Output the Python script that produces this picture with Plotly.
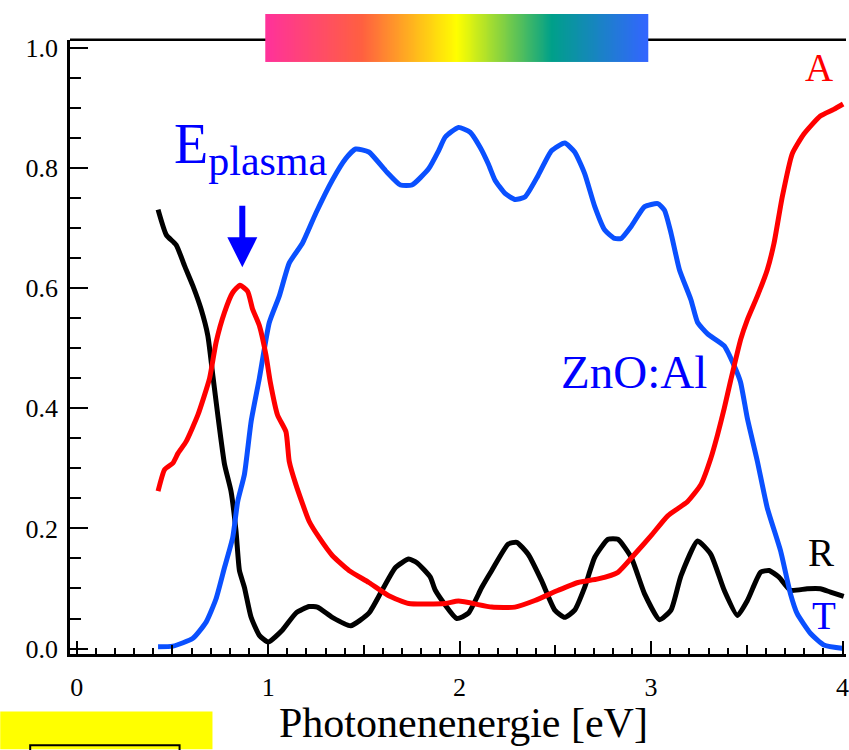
import plotly.graph_objects as go

# ---------------- data ----------------
R_ENERGY = [0.425, 0.468, 0.520, 0.564, 0.607, 0.650, 0.685, 0.711, 0.737, 0.772, 0.806, 0.832,
            0.850, 0.876, 0.911, 0.954, 1.000, 1.075, 1.145, 1.214, 1.257, 1.335, 1.431, 1.526,
            1.595, 1.665, 1.734, 1.777, 1.847, 1.873, 1.985, 2.046, 2.116, 2.168, 2.254, 2.298,
            2.358, 2.428, 2.497, 2.549, 2.601, 2.653, 2.706, 2.775, 2.827, 2.896, 2.966, 3.044,
            3.104, 3.156, 3.243, 3.312, 3.382, 3.451, 3.503, 3.572, 3.616, 3.668, 3.728, 3.815,
            3.884, 3.937, 4.006]
R_VALUES = [0.731, 0.689, 0.672, 0.637, 0.604, 0.565, 0.521, 0.455, 0.389, 0.307, 0.262, 0.196,
            0.130, 0.102, 0.052, 0.022, 0.011, 0.031, 0.059, 0.070, 0.069, 0.052, 0.038, 0.059,
            0.097, 0.135, 0.149, 0.143, 0.119, 0.097, 0.050, 0.059, 0.102, 0.130, 0.174, 0.177,
            0.157, 0.113, 0.064, 0.052, 0.064, 0.102, 0.152, 0.182, 0.182, 0.152, 0.091, 0.048,
            0.064, 0.121, 0.179, 0.157, 0.097, 0.055, 0.080, 0.127, 0.130, 0.119, 0.097, 0.0995,
            0.0995, 0.094, 0.087]

A_ENERGY = [0.425, 0.459, 0.503, 0.529, 0.572, 0.633, 0.694, 0.728, 0.772, 0.815, 0.853, 0.893,
            0.919, 0.954, 0.989, 1.011, 1.049, 1.093, 1.110, 1.145, 1.214, 1.266, 1.335, 1.422,
            1.526, 1.630, 1.734, 1.925, 1.994, 2.168, 2.289, 2.393, 2.515, 2.619, 2.723, 2.827,
            2.914, 3.000, 3.087, 3.191, 3.260, 3.312, 3.347, 3.382, 3.416, 3.468, 3.503, 3.555,
            3.607, 3.642, 3.685, 3.737, 3.798, 3.884, 3.954, 4.003]
A_VALUES = [0.262, 0.298, 0.309, 0.325, 0.345, 0.389, 0.450, 0.510, 0.560, 0.593, 0.605, 0.595,
            0.565, 0.538, 0.488, 0.444, 0.389, 0.361, 0.312, 0.273, 0.212, 0.185, 0.155, 0.130,
            0.110, 0.088, 0.075, 0.075, 0.079, 0.069, 0.069, 0.080, 0.097, 0.110, 0.116, 0.127,
            0.157, 0.188, 0.221, 0.245, 0.273, 0.317, 0.356, 0.400, 0.447, 0.515, 0.548, 0.587,
            0.631, 0.675, 0.752, 0.824, 0.857, 0.887, 0.898, 0.907]

T_ENERGY = [0.425, 0.503, 0.607, 0.676, 0.728, 0.772, 0.815, 0.841, 0.876, 0.911, 0.954, 1.006,
            1.058, 1.110, 1.179, 1.249, 1.335, 1.405, 1.457, 1.526, 1.613, 1.691, 1.751, 1.838,
            1.890, 1.925, 1.994, 2.055, 2.107, 2.150, 2.185, 2.237, 2.289, 2.341, 2.410, 2.480,
            2.549, 2.601, 2.653, 2.706, 2.758, 2.810, 2.844, 2.896, 2.966, 3.035, 3.070, 3.104,
            3.148, 3.208, 3.243, 3.295, 3.382, 3.434, 3.467, 3.503, 3.555, 3.607, 3.676, 3.728,
            3.763, 3.833, 3.902, 4.006]
T_VALUES = [0.003, 0.004, 0.017, 0.044, 0.083, 0.135, 0.185, 0.245, 0.290, 0.378, 0.450, 0.543,
            0.587, 0.642, 0.675, 0.725, 0.780, 0.816, 0.832, 0.827, 0.796, 0.772, 0.772, 0.799,
            0.829, 0.852, 0.868, 0.860, 0.835, 0.807, 0.780, 0.758, 0.748, 0.752, 0.788, 0.829,
            0.842, 0.827, 0.791, 0.736, 0.697, 0.683, 0.683, 0.703, 0.736, 0.741, 0.730, 0.692,
            0.631, 0.581, 0.543, 0.524, 0.504, 0.471, 0.444, 0.383, 0.312, 0.234, 0.163, 0.091,
            0.058, 0.025, 0.006, 0.000]

Y_TICKS = [0.0, 0.2, 0.4, 0.6, 0.8, 1.0]
Y_TICK_LABELS = ["0.0", "0.2", "0.4", "0.6", "0.8", "1.0"]
X_TICKS = [0, 1, 2, 3, 4]
X_TICK_LABELS = ["0", "1", "2", "3", "4"]

# visible-spectrum colour bar (energy span and colour stops)
SPECTRUM_START = 0.985
SPECTRUM_END = 2.983
SPECTRUM_STOPS = [[0.0, "#ff3399"], [0.25, "#ff6040"], [0.5, "#ffff00"],
                  [0.75, "#00a08a"], [1.0, "#3366ff"]]

FONT = "Liberation Serif, Times New Roman, serif"
BLUE_LINE = "#0a50ff"
BLUE_TEXT = "#0000ff"
Y_DOMAIN_TOP = 0.94648

fig = go.Figure()

fig.add_trace(go.Scatter(x=R_ENERGY, y=R_VALUES, mode="lines", name="R",
                         line=dict(color="black", width=5, shape="spline", smoothing=0.5)))
fig.add_trace(go.Scatter(x=T_ENERGY, y=T_VALUES, mode="lines", name="T",
                         line=dict(color=BLUE_LINE, width=5, shape="spline", smoothing=0.5)))
fig.add_trace(go.Scatter(x=A_ENERGY, y=A_VALUES, mode="lines", name="A",
                         line=dict(color="#ff0000", width=5, shape="spline", smoothing=0.5)))

# colour bar of the visible range, as a smooth heatmap on its own strip
n_cells = 101
cell_w = (SPECTRUM_END - SPECTRUM_START) / n_cells
fig.add_trace(go.Heatmap(
    z=[[i / (n_cells - 1) for i in range(n_cells)]],
    x0=SPECTRUM_START + cell_w / 2, dx=cell_w, y0=0, dy=1,
    colorscale=SPECTRUM_STOPS, zmin=0, zmax=1, showscale=False,
    xaxis="x", yaxis="y2", hoverinfo="skip", zsmooth="best"))

# medium ticks at 0.5 eV via an overlay axis
fig.add_trace(go.Scatter(x=[None], y=[None], xaxis="x2", yaxis="y", showlegend=False,
                         hoverinfo="skip"))

fig.update_layout(
    width=849, height=750,
    margin=dict(l=70, r=0, t=0, b=96),
    paper_bgcolor="white", plot_bgcolor="rgba(0,0,0,0)",
    showlegend=False,
    font=dict(family=FONT, color="black", size=26),
    xaxis=dict(range=[-0.0349, 4.018], showgrid=False, zeroline=False,
               showline=True, linecolor="black", linewidth=2.5,
               ticks="inside", ticklen=13, tickwidth=2, tickcolor="black",
               tickvals=X_TICKS, ticktext=X_TICK_LABELS, ticklabelstandoff=8,
               ticklabeloverflow="allow",
               tickfont=dict(size=26, family=FONT),
               minor=dict(dtick=0.1, tick0=0, ticks="inside", ticklen=6,
                          tickwidth=2, tickcolor="black", showgrid=False),
               anchor="y"),
    xaxis2=dict(overlaying="x", matches="x", range=[-0.0349, 4.018], side="bottom",
                anchor="y", showgrid=False, zeroline=False, showline=False,
                ticks="inside", dtick=0.5, tick0=0, ticklen=9, tickwidth=2,
                tickcolor="black", showticklabels=False),
    yaxis=dict(domain=[0, Y_DOMAIN_TOP], range=[-0.0091, 1.014], showgrid=False,
               zeroline=False, showline=True, linecolor="black", linewidth=2.5,
               ticks="inside", ticklen=18, tickwidth=2, tickcolor="black",
               tickvals=Y_TICKS, ticktext=Y_TICK_LABELS, ticklabelstandoff=4,
               tickfont=dict(size=26, family=FONT),
               minor=dict(dtick=0.05, tick0=0, ticks="inside", ticklen=11,
                          tickwidth=2, tickcolor="black", showgrid=False)),
    yaxis2=dict(domain=[0.9118, 0.9862], range=[-0.5, 0.5], anchor="x", visible=False,
                showgrid=False, zeroline=False),
)

annotations = [
    dict(text="Photonenenergie [eV]", x=2.02, xref="x", y=-0.106, yref="paper",
         showarrow=False, font=dict(size=42, family=FONT, color="black"),
         xanchor="center", yanchor="middle"),
    dict(text="A", x=3.876, y=0.968, xref="x", yref="y", showarrow=False,
         font=dict(size=39, family=FONT, color="#ff0000")),
    dict(text="R", x=3.886, y=0.160, xref="x", yref="y", showarrow=False,
         font=dict(size=39, family=FONT, color="black")),
    dict(text="T", x=3.901, y=0.055, xref="x", yref="y", showarrow=False,
         font=dict(size=39, family=FONT, color=BLUE_TEXT)),
    dict(text="ZnO:Al", x=2.913, y=0.460, xref="x", yref="y", showarrow=False,
         font=dict(size=47, family=FONT, color=BLUE_TEXT)),
    dict(text="E<sub><span style='font-size:42px'>plasma</span></sub>",
         x=0.912, y=0.833, xref="x", yref="y", showarrow=False,
         font=dict(size=56, family=FONT, color=BLUE_TEXT)),
    dict(text="", x=0.865, y=0.635, xref="x", yref="y", ax=0.865, ay=0.740,
         axref="x", ayref="y", showarrow=True, arrowhead=2, arrowsize=1,
         arrowwidth=6, arrowcolor=BLUE_TEXT, standoff=0, startstandoff=0),
]
fig.update_layout(annotations=annotations)

# top frame line (runs behind the colour bar)
fig.add_shape(type="line", xref="paper", yref="paper", x0=0, x1=1,
              y0=Y_DOMAIN_TOP, y1=Y_DOMAIN_TOP, line=dict(color="black", width=2.5),
              layer="below")

# yellow box at the lower left, with the top of a framed box inside it
fig.add_shape(type="rect", xref="paper", yref="paper", x0=-0.0899, x1=0.1836,
              y0=-0.1468, y1=-0.0887, fillcolor="#ffff00", line=dict(width=0), layer="above")
fig.add_shape(type="rect", xref="paper", yref="paper", x0=-0.0513, x1=0.1412,
              y0=-0.170, y1=-0.1407, fillcolor="rgba(0,0,0,0)",
              line=dict(color="black", width=2), layer="above")

# remove the browser's default page margin so the figure sits at the window's corner
fig.write_html("out.html", config={"displayModeBar": False},
               post_script="document.body.style.margin='0';document.body.style.padding='0';"
                           "document.body.style.overflow='hidden';")
